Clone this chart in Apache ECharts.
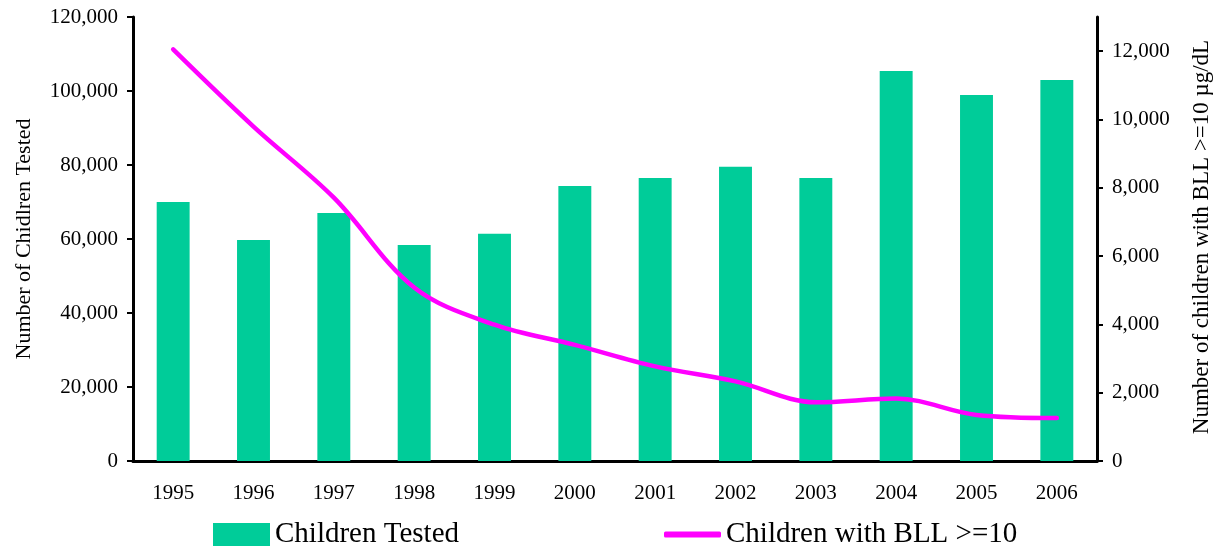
<!DOCTYPE html>
<html>
<head>
<meta charset="utf-8">
<script src="https://cdn.jsdelivr.net/npm/echarts@6/dist/echarts.min.js"></script>
<style>
html,body{margin:0;padding:0;background:#fff;}
#chart{width:1213px;height:549px;}
</style>
</head>
<body>
<div id="chart"></div>
<script>
const years = ['1995','1996','1997','1998','1999','2000','2001','2002','2003','2004','2005','2006'];
const childrenTested = [70000, 59700, 67000, 58400, 61400, 74300, 76500, 79500, 76500, 105400, 98900, 103000];
const childrenBLL = [12050, 9790, 7710, 5080, 3990, 3400, 2770, 2330, 1720, 1830, 1350, 1260];
const rightTicks = [0, 2000, 4000, 6000, 8000, 10000, 12000];
const leftTitle = 'Number of Chidlren Tested';
const rightTitle = 'Number of children with BLL >=10 \u00b5g/dL';
const seriesNames = ['Children Tested', 'Children with BLL >=10'];

const FONT = '"Liberation Serif", "Times New Roman", serif';
const fmt = v => Number(v).toLocaleString('en-US');

const chart = echarts.init(document.getElementById('chart'), null, {renderer: 'canvas'});
chart.setOption({
  animation: false,
  backgroundColor: '#ffffff',
  textStyle: {fontFamily: FONT, color: '#000'},
  grid: {left: 133, right: 116, top: 17, bottom: 88, containLabel: false},
  legend: [
    {
      data: [seriesNames[0]], left: 213, top: 520, padding: 0,
      itemWidth: 57, itemHeight: 23, icon: 'rect',
      textStyle: {fontFamily: FONT, fontSize: 29, color: '#000', padding: [0,0,0,0]}
    },
    {
      data: [seriesNames[1]], left: 664, top: 520, padding: 0,
      itemWidth: 57, itemHeight: 6, icon: 'roundRect',
      itemStyle: {color: '#FF00FF'},
      textStyle: {fontFamily: FONT, fontSize: 29, color: '#000', padding: [0,0,0,0]}
    }
  ],
  xAxis: {
    type: 'category', data: years,
    axisLine: {show: true, lineStyle: {color: '#000', width: 3}},
    axisTick: {show: false},
    axisLabel: {fontFamily: FONT, fontSize: 21, color: '#000', margin: 22},
    splitLine: {show: false}
  },
  yAxis: [
    {
      type: 'value', min: 0, max: 120000, interval: 20000, position: 'left',
      name: leftTitle, nameLocation: 'middle', nameRotate: 90, nameGap: 98,
      nameTextStyle: {fontFamily: FONT, fontSize: 22, color: '#000'},
      axisLine: {show: true, lineStyle: {color: '#000', width: 3}},
      axisTick: {show: true, inside: false, length: 6, lineStyle: {color: '#000', width: 2}},
      axisLabel: {fontFamily: FONT, fontSize: 21, color: '#000', margin: 15, formatter: fmt},
      splitLine: {show: false}
    },
    {
      type: 'value', min: 0, max: 13000, position: 'right',
      axisLine: {show: true, lineStyle: {color: '#000', width: 3}},
      axisTick: {show: true, inside: false, length: 6, lineStyle: {color: '#000', width: 2}, customValues: rightTicks},
      axisLabel: {fontFamily: FONT, fontSize: 21, color: '#000', margin: 15, formatter: fmt, customValues: rightTicks},
      splitLine: {show: false}
    }
  ],
  graphic: [
    {
      type: 'text', x: 1202, y: 237, rotation: Math.PI / 2,
      style: {text: rightTitle, fontFamily: FONT, fontSize: 23, fill: '#000', align: 'center', verticalAlign: 'middle'}
    }
  ],
  series: [
    {
      name: seriesNames[0], type: 'bar', data: childrenTested, yAxisIndex: 0,
      barWidth: '41%', itemStyle: {color: '#00CC99'}
    },
    {
      name: seriesNames[1], type: 'line', data: childrenBLL, yAxisIndex: 1,
      smooth: 0.35, showSymbol: false, symbol: 'none',
      lineStyle: {color: '#FF00FF', width: 4.5, cap: 'round'},
      itemStyle: {color: '#FF00FF'}
    }
  ]
});
</script>
</body>
</html>
